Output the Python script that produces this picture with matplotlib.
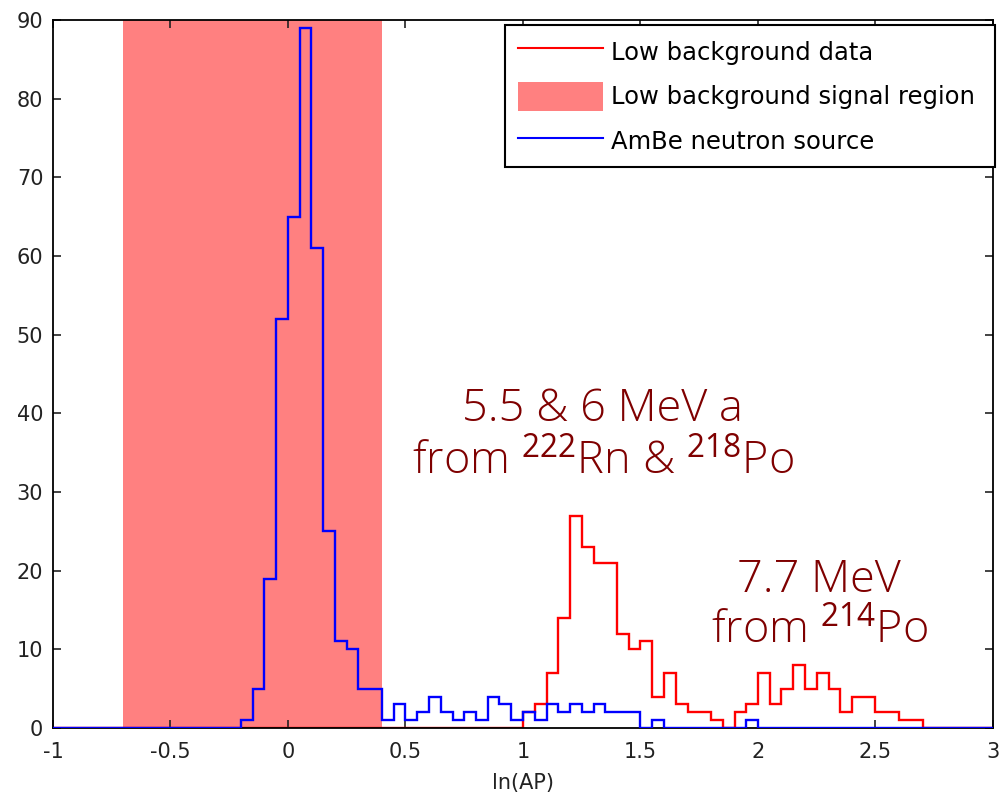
import matplotlib
matplotlib.use('Agg')
import matplotlib.pyplot as plt
import numpy as np
from matplotlib.patches import Patch
from matplotlib.lines import Line2D

# histogram bins, ln(AP) from -1 to 3 in steps of 0.05
bin_lo, bin_hi, bin_w = -1.0, 3.0, 0.05

# AmBe neutron source counts (80 bins)
ambe_counts = [0] * 16 + [
    1, 5, 19, 52, 65, 89, 61, 25, 11, 10, 5, 5,
    1, 3, 1, 2, 4, 2, 1, 2, 1, 4, 3, 1, 2, 1, 3, 2,
    3, 2, 3, 2, 2, 2, 0, 1, 0, 0, 0, 0, 0, 0, 0, 1,
] + [0] * 20

# low background data counts (80 bins)
lowbg_counts = [0] * 28 + [0] * 12 + [
    2, 3, 7, 14, 27, 23, 21, 21, 12, 10, 11, 4, 7, 3, 2, 2, 1,
    0, 2, 3, 7, 3, 5, 8, 5, 7, 5, 2, 4, 4, 2, 2, 1, 1,
] + [0] * 6

signal_region = (-0.7, 0.4)

xticks = [-1, -0.5, 0, 0.5, 1, 1.5, 2, 2.5, 3]
xticklabels = ['-1', '-0.5', '0', '0.5', '1', '1.5', '2', '2.5', '3']
yticks = list(range(0, 91, 10))

edges = np.linspace(bin_lo, bin_hi, len(ambe_counts) + 1)

fig = plt.figure(figsize=(10.03, 8.0), dpi=100)
ax = fig.add_axes([53 / 1003, 72 / 800, 940 / 1003, 708 / 800])

shade_col = '#ff8080'
ax.axvspan(signal_region[0], signal_region[1], color=shade_col, lw=0, zorder=1)
ax.stairs(lowbg_counts, edges, color='#ff0000', lw=1.7, zorder=2)
ax.stairs(ambe_counts, edges, color='#0000ff', lw=1.7, zorder=3)

ax.set_xlim(-1, 3)
ax.set_ylim(0, 90)
ax.set_xticks(xticks)
ax.set_xticklabels(xticklabels)
ax.set_yticks(yticks)
ax.tick_params(direction='in', length=6, width=1.2, top=True, right=True,
               labelsize=15, colors='#222222')
ax.tick_params(axis='x', pad=10)
ax.tick_params(axis='y', pad=7)
for s in ax.spines.values():
    s.set_linewidth(1.3)
ax.set_xlabel('ln(AP)', fontsize=15, labelpad=8, color='#222222')

handles = [Line2D([], [], color='#ff0000', lw=1.5),
           Patch(facecolor=shade_col, edgecolor='none'),
           Line2D([], [], color='#0000ff', lw=1.5)]
# trailing space widens the box on the right like the reference
labels = ['Low background data ', 'Low background signal region ', 'AmBe neutron source ']
leg = ax.legend(handles, labels, loc='upper right', bbox_to_anchor=(995 / 1003, 1 - 25 / 800),
                bbox_transform=fig.transFigure, fontsize=17.5, frameon=True, fancybox=False,
                edgecolor='black', framealpha=1, handlelength=3.5, handleheight=1.45,
                handletextpad=0.35, labelspacing=0.65, borderpad=0.5, borderaxespad=0)
leg.get_frame().set_linewidth(1.5)

txt_col = '#7f0000'
plt.rcParams['mathtext.fontset'] = 'custom'
plt.rcParams['mathtext.rm'] = 'Open Sans'
ax.text(1.34, 37.1, '5.5 & 6 MeV a\nfrom $^{222}$Rn & $^{218}$Po', ha='center', va='center',
        fontsize=32.5, color=txt_col, family='Open Sans', weight='light', linespacing=1.22)
ax.text(2.26, 15.5, '7.7 MeV\nfrom $^{214}$Po', ha='center', va='center',
        fontsize=32.5, color=txt_col, family='Open Sans', weight='light', linespacing=1.15)

fig.savefig('out.png', dpi=100)
